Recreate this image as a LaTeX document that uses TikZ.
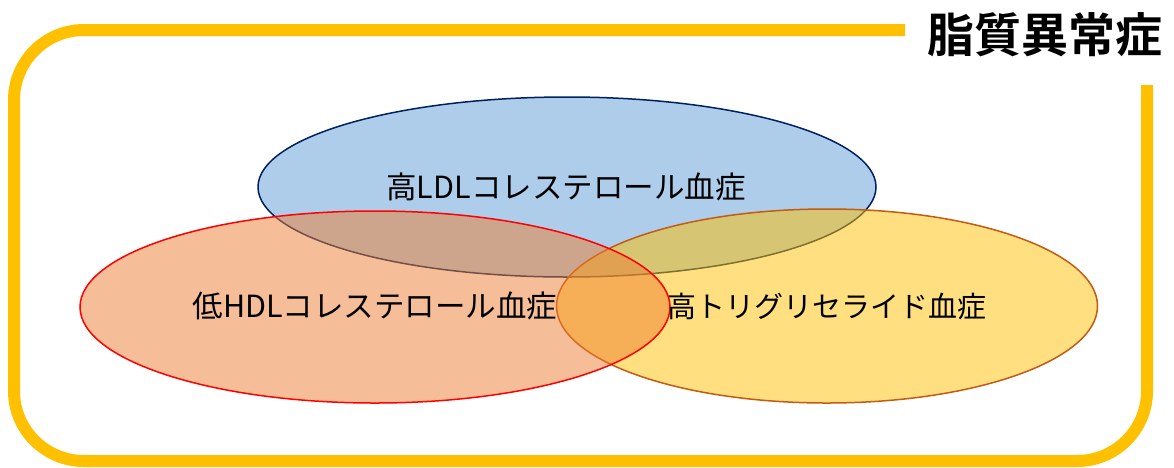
\documentclass[tikz,border=0pt]{standalone}
\usepackage{fontspec}
\newfontfamily\jp{Noto Sans CJK JP}
\newfontfamily\jpb{Noto Sans CJK JP Bold}
\usetikzlibrary{shapes.geometric}
\definecolor{frameY}{HTML}{FFC000}
\definecolor{bFill}{HTML}{5B9BD5}
\definecolor{bLine}{HTML}{002060}
\definecolor{rFill}{HTML}{ED7D31}
\definecolor{rLine}{HTML}{FF0000}
\definecolor{yFill}{HTML}{FFC000}
\definecolor{yLine}{HTML}{C55A11}
\tikzset{
  setel/.style={ellipse, inner sep=0pt, line width=1.5pt, fill opacity=0.5, draw opacity=1},
  setlabel/.style={font=\jp\fontsize{30.5}{34}\selectfont, text=black, inner sep=0pt},
}
\begin{document}
\begin{tikzpicture}[x=1pt,y=-1pt]
\useasboundingbox (0,0) rectangle (1174,467);
% frame
\draw[frameY, line width=12pt, line cap=butt, line join=round, rounded corners=70pt]
  (905,30) -- (14,30) -- (14,461) -- (1147,461) -- (1147,85);
\node[font=\jpb\fontsize{47}{50}\selectfont, inner sep=0pt] (title) at (1045,35) {脂質異常症};
% sets
\node[setel, draw=bLine, fill=bFill, minimum width=618pt, minimum height=180pt] (ldl) at (567,187) {};
\node[setel, draw=yLine, fill=yFill, minimum width=541pt, minimum height=194pt] (tg) at (827,306) {};
\node[setel, draw=rLine, fill=rFill, minimum width=590pt, minimum height=192pt] (hdl) at (375,307) {};
% labels
\node[setlabel] (ldlL) at (566,187) {高LDLコレステロール血症};
\node[setlabel] (hdlL) at (375,306) {低HDLコレステロール血症};
\node[setlabel, font=\jp\fontsize{29}{32}\selectfont] (tgL) at (827,306) {高トリグリセライド血症};
\end{tikzpicture}
\end{document}
